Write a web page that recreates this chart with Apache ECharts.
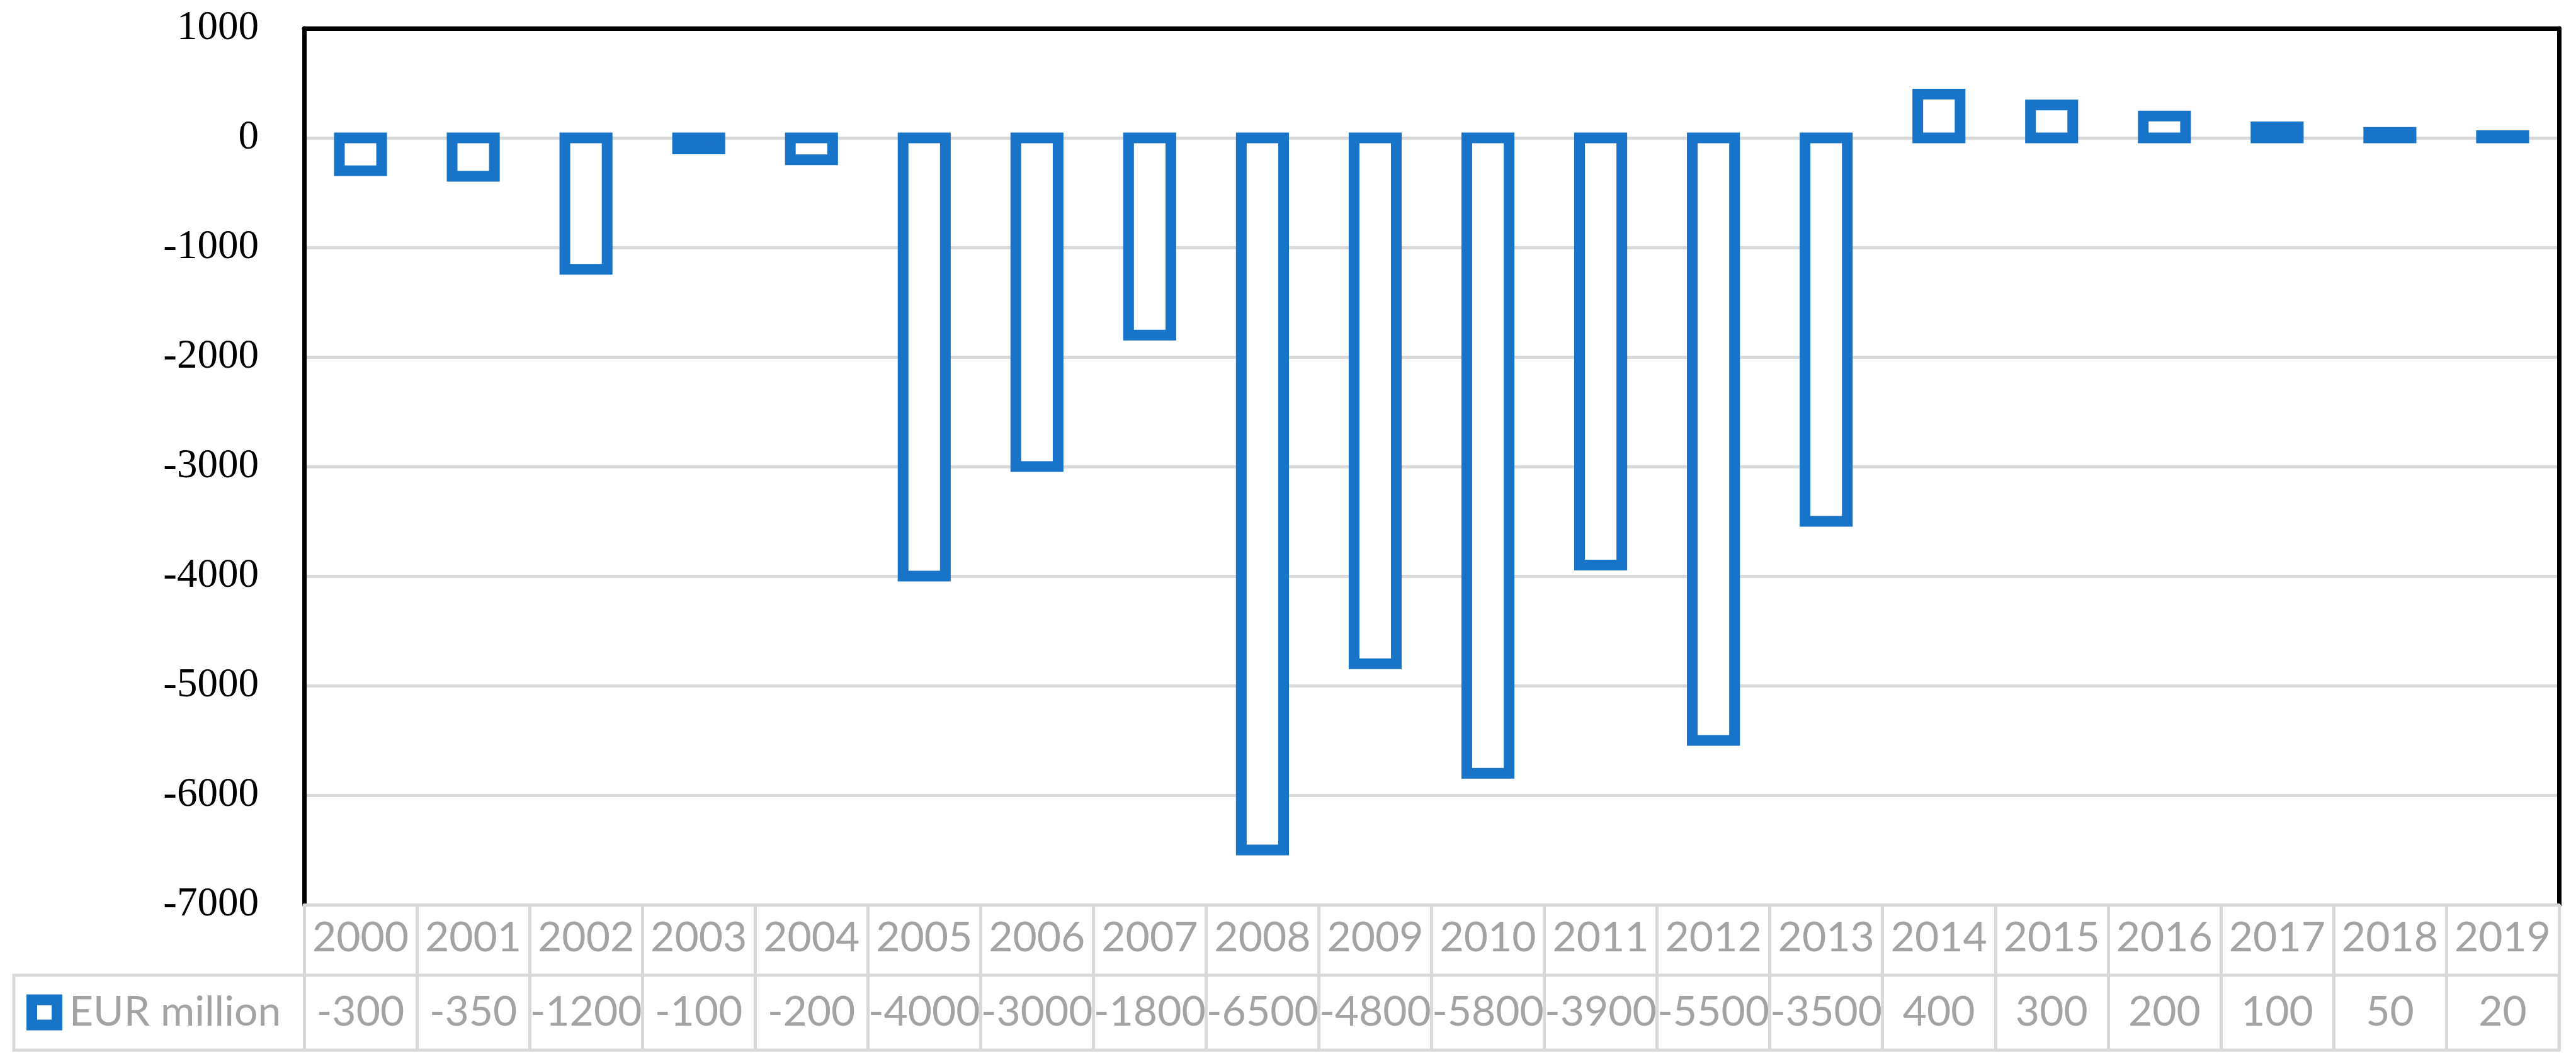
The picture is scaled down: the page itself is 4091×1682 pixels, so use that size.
<!DOCTYPE html>
<html>
<head>
<meta charset="utf-8">
<script src="https://cdn.jsdelivr.net/npm/echarts@6/dist/echarts.min.js"></script>
<style>html,body{margin:0;padding:0;background:#fff}#c{width:4091px;height:1682px}</style>
</head>
<body>
<div id="c"></div>
<script>
const categories = ['2000','2001','2002','2003','2004','2005','2006','2007','2008','2009','2010','2011','2012','2013','2014','2015','2016','2017','2018','2019'];
const eurMillion = [-300,-350,-1200,-100,-200,-4000,-3000,-1800,-6500,-4800,-5800,-3900,-5500,-3500,400,300,200,100,50,20];
const seriesName = 'EUR million';
const yMin = -7000, yMax = 1000, yInterval = 1000;

const BLUE = '#1874C8';
const GRID_GRAY = '#d9d9d9';
const TEXT_GRAY = '#a3a3a3';
const BORDER_W = 17;

const chart = echarts.init(document.getElementById('c'), null, {renderer: 'canvas'});

const option = {
  backgroundColor: '#fff',
  animation: false,
  grid: [
    {left: 483, right: 27, top: 45, bottom: 245, containLabel: false},
    {left: 22, right: 27, top: 1549, bottom: 14, show: true, borderColor: GRID_GRAY, borderWidth: 5, backgroundColor: 'transparent'}
  ],
  legend: {
    data: [seriesName],
    left: 42,
    top: 1575,
    padding: 0,
    itemWidth: 57,
    itemHeight: 57,
    icon: 'path://M0,0H57V57H0Z M17,17V40H40V17Z',
    itemStyle: {color: BLUE, borderWidth: 0},
    textStyle: {fontFamily: 'Lato', fontSize: 66, color: TEXT_GRAY, padding: [0, 0, 0, 6]},
    selectedMode: false
  },
  xAxis: [
    {
      type: 'category', gridIndex: 0, data: categories, position: 'bottom',
      axisLine: {show: true, onZero: false, lineStyle: {color: GRID_GRAY, width: 5}},
      axisTick: {show: true, interval: 0, length: 231, lineStyle: {color: GRID_GRAY, width: 5}},
      axisLabel: {interval: 0, margin: 53, verticalAlign: 'middle', fontFamily: 'Lato', fontSize: 66, color: TEXT_GRAY}
    },
    {
      type: 'category', gridIndex: 0, data: categories, position: 'bottom', offset: 112,
      axisLine: {show: false, onZero: false},
      axisTick: {show: false},
      axisLabel: {interval: 0, margin: 59, verticalAlign: 'middle', fontFamily: 'Lato', fontSize: 66, color: TEXT_GRAY,
        formatter: function (v, i) { return String(eurMillion[i]); }}
    },
    {
      type: 'category', gridIndex: 0, data: categories, position: 'top',
      axisLine: {show: true, onZero: false, lineStyle: {color: '#000', width: 7}},
      axisTick: {show: false}, axisLabel: {show: false}
    },
    {type: 'value', gridIndex: 1, show: false}
  ],
  yAxis: [
    {
      type: 'value', gridIndex: 0, min: yMin, max: yMax, interval: yInterval, position: 'left',
      axisLine: {show: true, lineStyle: {color: '#000', width: 7}},
      axisTick: {show: false},
      axisLabel: {margin: 72, fontFamily: 'Liberation Serif', fontSize: 65, color: '#000',
        formatter: function (v) { return String(v); }},
      splitLine: {show: true, lineStyle: {color: GRID_GRAY, width: 5}}
    },
    {
      type: 'value', gridIndex: 0, min: yMin, max: yMax, interval: yInterval, position: 'right',
      axisLine: {show: true, lineStyle: {color: '#000', width: 7}},
      axisTick: {show: false}, axisLabel: {show: false}, splitLine: {show: false}
    },
    {type: 'value', gridIndex: 1, show: false}
  ],
  series: [
    {
      name: seriesName,
      type: 'custom',
      xAxisIndex: 0,
      yAxisIndex: 0,
      z: 5,
      itemStyle: {color: BLUE},
      encode: {x: 0, y: 1},
      data: categories.map(function (c, i) { return [i, eurMillion[i]]; }),
      renderItem: function (params, api) {
        const idx = api.value(0);
        const v = api.value(1);
        const p0 = api.coord([idx, 0]);
        const p1 = api.coord([idx, v]);
        const bw = api.size([1, 0])[0] * 0.375;
        const h = Math.abs(p1[1] - p0[1]);
        return {
          type: 'rect',
          shape: {x: p0[0] - bw / 2, y: Math.min(p0[1], p1[1]), width: bw, height: h},
          style: {fill: h <= BORDER_W + 1 ? BLUE : '#fff', stroke: BLUE, lineWidth: BORDER_W}
        };
      }
    }
  ]
};
chart.setOption(option);
</script>
</body>
</html>
